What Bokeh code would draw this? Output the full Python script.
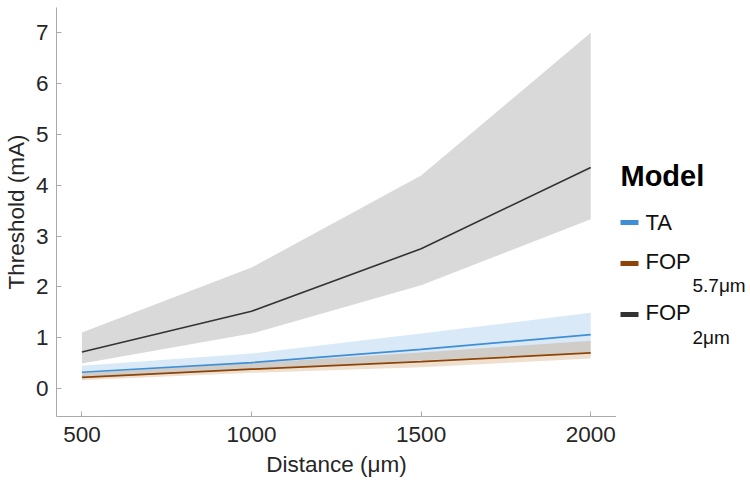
from bokeh.plotting import figure
from bokeh.layouts import row
from bokeh.models import Range1d, FixedTicker
from bokeh.core.properties import value
from bokeh.embed import file_html
from bokeh.resources import INLINE

# ---- data ----
distance = [500, 1000, 1500, 2000]
fop2_mean = [0.72, 1.52, 2.75, 4.35]
fop2_low = [0.49, 1.08, 2.03, 3.33]
fop2_high = [1.10, 2.38, 4.19, 7.00]
ta_mean = [0.32, 0.51, 0.77, 1.06]
ta_low = [0.20, 0.38, 0.55, 0.72]
ta_high = [0.45, 0.69, 1.08, 1.49]
fop57_mean = [0.22, 0.38, 0.53, 0.70]
fop57_low = [0.16, 0.31, 0.42, 0.59]
fop57_high = [0.30, 0.50, 0.71, 0.94]
x_ticks = [500, 1000, 1500, 2000]
y_ticks = [0, 1, 2, 3, 4, 5, 6, 7]
legend_title = "Model"
legend_names = ["TA", "FOP", "FOP"]
legend_subs = ["", "5.7\u03bcm", "2\u03bcm"]

FONT = "Liberation Sans"
C_GRAY_BAND = "#d9d9d9"
C_DARK = "#333333"
C_BLUE = "#3f8fd6"
C_BROWN = "#8c4408"
C_BROWN_BAND = "#b0600f"

W_MAIN = 616
H = 482
FRAME_TOP = 7
FRAME_BOTTOM = 416

p = figure(width=W_MAIN, height=H, output_backend="svg", toolbar_location=None,
           x_range=Range1d(425, 2076), y_range=Range1d(-0.551, 7.498),
           min_border_top=FRAME_TOP, min_border_right=0, min_border_left=53,
           min_border_bottom=H - FRAME_BOTTOM)
p.outline_line_color = None
p.xgrid.visible = False
p.ygrid.visible = False

p.varea(x=distance, y1=fop2_low, y2=fop2_high, fill_color=C_GRAY_BAND, fill_alpha=1.0)
p.varea(x=distance, y1=ta_low, y2=ta_high, fill_color=C_BLUE, fill_alpha=0.2)
p.varea(x=distance, y1=fop57_low, y2=fop57_high, fill_color=C_BROWN_BAND, fill_alpha=0.2)
p.line(distance, fop2_mean, line_color=C_DARK, line_width=1.6)
p.line(distance, ta_mean, line_color=C_BLUE, line_width=1.6)
p.line(distance, fop57_mean, line_color=C_BROWN, line_width=1.8)

for ax in (p.xaxis[0], p.yaxis[0]):
    ax.axis_line_color = "#aaaaaa"
    ax.major_tick_line_color = "#aaaaaa"
    ax.major_tick_in = 5
    ax.major_tick_out = 0
    ax.minor_tick_line_color = None
    ax.major_label_text_font = FONT
    ax.major_label_text_font_size = "22.5px"
    ax.major_label_text_color = "#262626"
    ax.axis_label_text_font = FONT
    ax.axis_label_text_font_size = "22.5px"
    ax.axis_label_text_font_style = "normal"
    ax.axis_label_text_color = "#262626"

p.xaxis[0].ticker = FixedTicker(ticks=x_ticks)
p.yaxis[0].ticker = FixedTicker(ticks=y_ticks)
p.xaxis[0].axis_label = "Distance (\u03bcm)"
p.yaxis[0].axis_label = "Threshold (mA)"
p.xaxis[0].major_label_standoff = 10
p.xaxis[0].axis_label_standoff = 7
p.yaxis[0].major_label_standoff = 8
p.yaxis[0].axis_label_standoff = 4

# ---- legend panel (coordinates in page pixels; frame aligned with main frame) ----
lg = figure(width=750 - W_MAIN, height=H, output_backend="svg", toolbar_location=None,
            x_range=Range1d(W_MAIN, 750), y_range=Range1d(FRAME_BOTTOM, FRAME_TOP),
            min_border_top=FRAME_TOP, min_border_bottom=H - FRAME_BOTTOM,
            min_border_left=0, min_border_right=0)
lg.axis.visible = False
lg.grid.visible = False
lg.outline_line_color = None

lx = 620
lg.text(x=[lx], y=[175], text=[legend_title], text_font=value(FONT),
        text_font_size="29px", text_font_style="bold", text_color="#000000",
        text_baseline="alphabetic")
colors = [C_BLUE, C_BROWN, C_DARK]
patch_y = [222, 263, 314]
base_y = [221.5, 260.5, 312]
for c, py, by, name, sub in zip(colors, patch_y, base_y, legend_names, legend_subs):
    lg.quad(left=[lx], right=[lx + 18], top=[py - 2.5], bottom=[py + 2.5],
            fill_color=c, line_color=None)
    lg.text(x=[lx + 25], y=[by], text=[name], text_font=value(FONT),
            text_font_size="22px", text_color="#111111", text_baseline="alphabetic")
    if sub:
        lg.text(x=[lx + 72], y=[by + 24.5], text=[sub], text_font=value(FONT),
                text_font_size="19px", text_color="#111111", text_baseline="alphabetic")

layout = row(p, lg)
open("out.html", "w").write(file_html(layout, INLINE))
